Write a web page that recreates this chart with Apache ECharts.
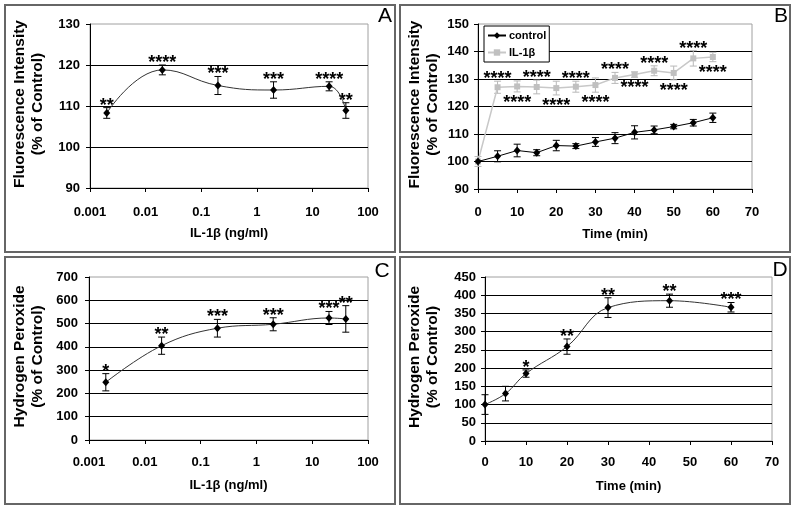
<!DOCTYPE html>
<html>
<head>
<meta charset="utf-8">
<script src="https://cdn.jsdelivr.net/npm/echarts@6/dist/echarts.min.js"></script>
<style>
  html, body { margin: 0; padding: 0; background: #fff; }
  #chart { width: 800px; height: 511px; }
</style>
</head>
<body>
<div id="chart"></div>
<script>
// ---------- Data ----------
// Panel A: fluorescence vs IL-1β dose
const A_dose  = [0.002, 0.02, 0.2, 2, 20, 40];
const A_fluor = [108.3, 118.8, 115.0, 113.9, 114.8, 108.9];
const A_err   = [1.3, 1.2, 2.2, 2.0, 1.1, 1.9];
const A_stars = ['**', '****', '***', '***', '****', '**'];

// Panel B: fluorescence vs time
const B_time       = [0, 5, 10, 15, 20, 25, 30, 35, 40, 45, 50, 55, 60];
const B_control    = [100, 101.9, 104.0, 103.2, 105.8, 105.6, 107.1, 108.5, 110.6, 111.5, 112.7, 114.1, 115.9];
const B_controlErr = [0, 2.0, 2.3, 1.1, 1.9, 0.9, 1.6, 2.0, 2.4, 1.4, 0.8, 1.2, 1.7];
const B_il1b       = [100, 127.0, 127.3, 127.1, 126.7, 127.2, 127.8, 130.4, 131.6, 133.0, 132.2, 137.5, 138.0];
const B_il1bErr    = [1.8, 2.2, 2.0, 2.5, 2.5, 2.0, 2.6, 2.0, 1.0, 1.8, 2.5, 2.8, 1.7];
const B_stars      = ['', '****', '****', '****', '****', '****', '****', '****', '****', '****', '****', '****', '****'];
const B_starSide   = ['', 'above', 'below', 'above', 'below', 'above', 'below', 'above', 'below', 'above', 'below', 'above', 'below'];
const B_legend     = ['control', 'IL-1β'];

// Panel C: hydrogen peroxide vs IL-1β dose
const C_dose  = [0.002, 0.02, 0.2, 2, 20, 40];
const C_h2o2  = [248, 405, 480, 497, 524, 520];
const C_err   = [37, 37, 38, 28, 28, 57];
const C_stars = ['*', '**', '***', '***', '***', '**'];

// Panel D: hydrogen peroxide vs time
const D_time  = [0, 5, 10, 20, 30, 45, 60];
const D_h2o2  = [100, 130, 185, 259, 366, 385, 367];
const D_err   = [27, 20, 10, 21, 27, 18, 13];
const D_stars = ['', '', '*', '**', '**', '**', '***'];

const panelLabels = ['A', 'B', 'C', 'D'];
const yTitles = ['Fluorescence Intensity\n(% of Control)', 'Fluorescence Intensity\n(% of Control)',
                 'Hydrogen Peroxide\n(% of Control)', 'Hydrogen Peroxide\n(% of Control)'];
const xTitles = ['IL-1β (ng/ml)', 'Time (min)', 'IL-1β (ng/ml)', 'Time (min)'];

// ---------- Helpers ----------
const FONT = '"Liberation Sans", Arial, sans-serif';
const zip = (xs, ys) => xs.map((x, i) => [x, ys[i]]);
const zip3 = (xs, ys, es) => xs.map((x, i) => [x, ys[i], es[i]]);

function errRender(stars, sides, color) {
  return function (params, api) {
    const x = api.value(0), y = api.value(1), e = api.value(2);
    const top = api.coord([x, y + e]);
    const bot = api.coord([x, y - e]);
    const cap = 3.5;
    const ls = { stroke: color, lineWidth: 1 };
    const children = [];
    if (e > 0) {
      children.push({ type: 'line', shape: { x1: top[0], y1: top[1], x2: bot[0], y2: bot[1] }, style: ls });
      children.push({ type: 'line', shape: { x1: top[0] - cap, y1: top[1], x2: top[0] + cap, y2: top[1] }, style: ls });
      children.push({ type: 'line', shape: { x1: bot[0] - cap, y1: bot[1], x2: bot[0] + cap, y2: bot[1] }, style: ls });
    }
    const s = stars ? stars[params.dataIndex] : '';
    if (s) {
      const side = sides ? sides[params.dataIndex] : 'above';
      const ty = side === 'above' ? top[1] - 2 : bot[1] + 11;
      children.push({
        type: 'text', x: top[0], y: ty,
        style: { text: s, font: 'bold 18px ' + FONT, fill: '#000', align: 'center', verticalAlign: 'middle' }
      });
    }
    return { type: 'group', children };
  };
}

const grids = [
  { left: 90,  top: 24,  width: 278, height: 164 },
  { left: 478, top: 24,  width: 274, height: 165 },
  { left: 89,  top: 277, width: 279, height: 163 },
  { left: 485, top: 277, width: 287, height: 164 }
];

const axisCommon = {
  axisLine: { show: true, onZero: false, lineStyle: { color: '#000', width: 1 } },
  axisTick: { show: true, inside: false, length: 4, lineStyle: { color: '#000' } },
  axisLabel: { color: '#000', fontFamily: FONT, fontWeight: 'bold', fontSize: 13 },
};

function xAxis(i, cfg, margin) {
  return Object.assign({
    gridIndex: i,
    splitLine: { show: false }
  }, axisCommon, { axisLabel: Object.assign({}, axisCommon.axisLabel, { margin }) }, cfg);
}
function yAxis(i, min, max, interval, margin) {
  return Object.assign({
    gridIndex: i, type: 'value', min, max, interval,
    splitLine: { show: true, showMinLine: false, showMaxLine: false, lineStyle: { color: '#000', width: 1 } }
  }, axisCommon, { axisLabel: Object.assign({}, axisCommon.axisLabel, { margin }) });
}

const logFmt = v => String(+(+v).toPrecision(6));

const option = {
  animation: false,
  backgroundColor: '#fff',
  grid: grids.map(g => Object.assign({ show: true, borderColor: '#a0a0a0', borderWidth: 1, backgroundColor: 'transparent' }, g)),
  xAxis: [
    xAxis(0, { type: 'log', logBase: 10, min: 0.001, max: 100, axisLabel: Object.assign({}, axisCommon.axisLabel, { margin: 18, formatter: logFmt }) }, 18),
    xAxis(1, { type: 'value', min: 0, max: 70, interval: 10 }, 17),
    xAxis(2, { type: 'log', logBase: 10, min: 0.001, max: 100, axisLabel: Object.assign({}, axisCommon.axisLabel, { margin: 16, formatter: logFmt }) }, 16),
    xAxis(3, { type: 'value', min: 0, max: 70, interval: 10 }, 15)
  ],
  yAxis: [
    yAxis(0, 90, 130, 10, 10),
    yAxis(1, 90, 150, 10, 9),
    yAxis(2, 0, 700, 100, 11),
    yAxis(3, 0, 450, 50, 9)
  ],
  legend: {
    data: B_legend,
    left: 484, top: 26, orient: 'vertical',
    backgroundColor: '#fff', borderColor: '#000', borderWidth: 1,
    padding: [4, 3], itemGap: 6, itemWidth: 18, itemHeight: 8,
    textStyle: { fontFamily: FONT, fontWeight: 'bold', fontSize: 11, color: '#000', padding: [0, 0, 0, -2] }
  },
  series: [
    // Panel A
    { type: 'custom', name: 'A err', xAxisIndex: 0, yAxisIndex: 0, data: zip3(A_dose, A_fluor, A_err),
      renderItem: errRender(A_stars, null, '#000'), encode: { x: 0, y: 1 }, z: 3 },
    { type: 'line', name: 'A', xAxisIndex: 0, yAxisIndex: 0, data: zip(A_dose, A_fluor), smooth: 0.45,
      symbol: 'diamond', symbolSize: [7, 8], itemStyle: { color: '#000' }, lineStyle: { color: '#333', width: 1 }, z: 4 },
    // Panel B
    { type: 'custom', name: 'B control err', xAxisIndex: 1, yAxisIndex: 1, data: zip3(B_time, B_control, B_controlErr),
      renderItem: errRender(null, null, '#000'), encode: { x: 0, y: 1 }, z: 3 },
    { type: 'custom', name: 'B il err', xAxisIndex: 1, yAxisIndex: 1, data: zip3(B_time, B_il1b, B_il1bErr),
      renderItem: errRender(B_stars, B_starSide, '#b8b8b8'), encode: { x: 0, y: 1 }, z: 3 },
    { type: 'line', name: B_legend[1], xAxisIndex: 1, yAxisIndex: 1, data: zip(B_time, B_il1b),
      symbol: 'rect', symbolSize: 6, itemStyle: { color: '#c0c0c0' }, lineStyle: { color: '#c8c8c8', width: 1.5 }, z: 4 },
    { type: 'line', name: B_legend[0], xAxisIndex: 1, yAxisIndex: 1, data: zip(B_time, B_control),
      symbol: 'diamond', symbolSize: [7, 8], itemStyle: { color: '#000' }, lineStyle: { color: '#000', width: 1 }, z: 5 },
    // Panel C
    { type: 'custom', name: 'C err', xAxisIndex: 2, yAxisIndex: 2, data: zip3(C_dose, C_h2o2, C_err),
      renderItem: errRender(C_stars, null, '#000'), encode: { x: 0, y: 1 }, z: 3 },
    { type: 'line', name: 'C', xAxisIndex: 2, yAxisIndex: 2, data: zip(C_dose, C_h2o2), smooth: 0.4,
      symbol: 'diamond', symbolSize: [7, 8], itemStyle: { color: '#000' }, lineStyle: { color: '#333', width: 1 }, z: 4 },
    // Panel D
    { type: 'custom', name: 'D err', xAxisIndex: 3, yAxisIndex: 3, data: zip3(D_time, D_h2o2, D_err),
      renderItem: errRender(D_stars, null, '#000'), encode: { x: 0, y: 1 }, z: 3 },
    { type: 'line', name: 'D', xAxisIndex: 3, yAxisIndex: 3, data: zip(D_time, D_h2o2), smooth: 0.4,
      symbol: 'diamond', symbolSize: [7, 8], itemStyle: { color: '#000' }, lineStyle: { color: '#333', width: 1 }, z: 4 }
  ],
  graphic: []
};

// Panel frames, labels, axis titles
const frames = [[5, 5], [400, 5], [5, 257], [400, 257]];
const labelPos = [[385, 16], [781, 16], [382, 271], [780, 270]];
frames.forEach((f, i) => {
  const g = grids[i];
  option.graphic.push({
    type: 'rect', shape: { x: f[0], y: f[1], width: 390, height: 247 },
    style: { fill: 'none', stroke: '#666', lineWidth: 2 }, silent: true, z: 0
  });
  option.graphic.push({
    type: 'text', x: labelPos[i][0], y: labelPos[i][1],
    style: { text: panelLabels[i], font: '21px ' + FONT, fill: '#000', align: 'center', verticalAlign: 'middle' }
  });
  option.graphic.push({
    type: 'text', x: g.left + g.width / 2, y: g.top + g.height + 45,
    style: { text: xTitles[i], font: 'bold 13px ' + FONT, fill: '#000', align: 'center', verticalAlign: 'middle' }
  });
  option.graphic.push({
    type: 'text', x: f[0] + 24, y: g.top + g.height / 2 - 2, rotation: Math.PI / 2,
    style: { text: yTitles[i], font: 'bold 15.5px ' + FONT, lineHeight: 18, fill: '#000', align: 'center', verticalAlign: 'middle' }
  });
});

const chart = echarts.init(document.getElementById('chart'), null, { renderer: 'canvas' });
chart.setOption(option);
</script>
</body>
</html>
